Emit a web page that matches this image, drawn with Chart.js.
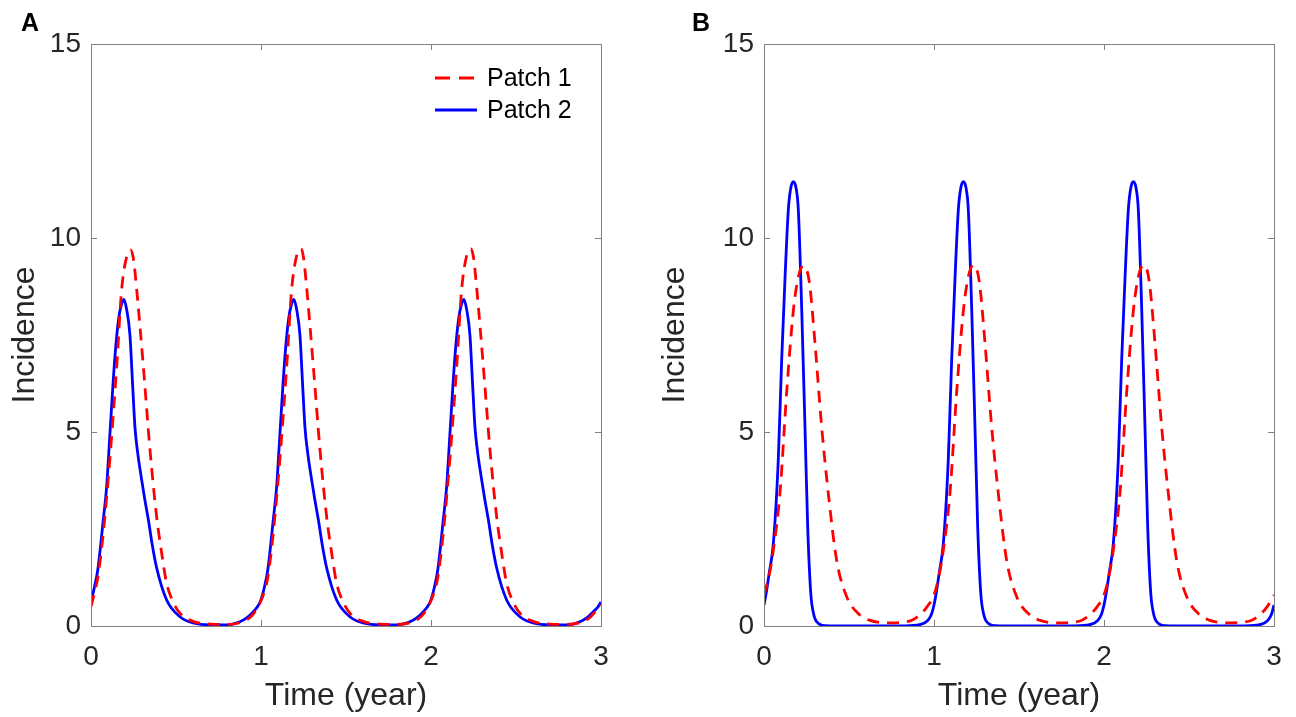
<!DOCTYPE html>
<html>
<head>
<meta charset="utf-8">
<script src="https://cdn.jsdelivr.net/npm/chart.js@4.4.1/dist/chart.umd.min.js"></script>
<style>
  html, body { margin: 0; padding: 0; background: #fff; }
  body { width: 1296px; height: 717px; position: relative; overflow: hidden; font-family: "Liberation Sans", Arial, sans-serif; }
  .panel { position: absolute; top: 0; height: 717px; }
  .tag { position: absolute; top: 8px; font-weight: bold; font-size: 25px; color: #000; }
</style>
</head>
<body>
<div class="panel" style="left:0;width:650px"><canvas id="chartA"></canvas></div>
<div class="panel" style="left:650px;width:646px"><canvas id="chartB"></canvas></div>
<div class="tag" style="left:21px">A</div>
<div class="tag" style="left:692px">B</div>
<script>
// Tick labels / axes
const X_TICKS = [0, 1, 2, 3];
const Y_TICKS = [0, 5, 10, 15];
const SERIES_NAMES = ['Patch 1', 'Patch 2'];

// Panel A, Patch 1 (red dashed) - [time, incidence]
const panelA_patch1 = [
  [0.00,0.50],[0.02,0.85],[0.04,1.25],[0.072,2.39],[0.112,4.36],[0.151,6.68],[0.18,8.66],[0.21,9.52],[0.235,9.69],[0.25,9.45],[0.269,8.66],
  [0.308,6.68],[0.347,4.54],[0.386,2.82],[0.415,1.9],[0.445,1.1],[0.48,0.65],[0.523,0.33],[0.6,0.12],[0.7,0.05],[0.8,0.04],[0.88,0.09],[0.93,0.2],[0.96,0.34],[0.98,0.48],
  [1.00,0.65],[1.02,0.9],[1.04,1.25],[1.072,2.39],[1.112,4.36],[1.151,6.68],[1.18,8.66],[1.21,9.55],[1.235,9.72],[1.25,9.5],[1.269,8.7],
  [1.308,6.68],[1.347,4.54],[1.386,2.82],[1.415,1.9],[1.445,1.1],[1.48,0.65],[1.523,0.33],[1.6,0.12],[1.7,0.05],[1.8,0.04],[1.88,0.09],[1.93,0.2],[1.96,0.34],[1.98,0.48],
  [2.00,0.65],[2.02,0.9],[2.04,1.25],[2.072,2.39],[2.112,4.36],[2.151,6.68],[2.18,8.66],[2.21,9.55],[2.235,9.72],[2.25,9.5],[2.269,8.7],
  [2.308,6.68],[2.347,4.54],[2.386,2.82],[2.415,1.9],[2.445,1.1],[2.48,0.65],[2.523,0.33],[2.6,0.12],[2.7,0.05],[2.8,0.04],[2.88,0.09],[2.93,0.2],[2.96,0.34],[2.98,0.45],
  [3.00,0.55]
];

// Panel A, Patch 2 (blue solid)
const panelA_patch2 = [
  [0.00,0.60],[0.02,1.0],[0.04,1.45],[0.072,2.73],[0.092,3.59],[0.112,5.0],[0.14,6.9],[0.162,7.9],[0.18,8.3],[0.194,8.42],[0.21,8.15],[0.229,7.5],
  [0.245,6.2],[0.259,5.1],[0.275,4.45],[0.295,3.85],[0.315,3.3],[0.337,2.75],[0.36,2.1],[0.386,1.5],[0.445,0.67],[0.523,0.24],[0.6,0.08],[0.7,0.03],
  [0.8,0.03],[0.876,0.11],[0.92,0.22],[0.955,0.37],[0.98,0.5],
  [1.00,0.68],[1.02,1.0],[1.04,1.45],[1.072,2.73],[1.092,3.59],[1.112,5.0],[1.14,6.9],[1.162,7.9],[1.18,8.3],[1.194,8.42],[1.21,8.15],[1.229,7.5],
  [1.245,6.2],[1.259,5.1],[1.275,4.45],[1.295,3.85],[1.315,3.3],[1.337,2.75],[1.36,2.1],[1.386,1.5],[1.445,0.67],[1.523,0.24],[1.6,0.08],[1.7,0.03],
  [1.8,0.03],[1.876,0.11],[1.92,0.22],[1.955,0.37],[1.98,0.5],
  [2.00,0.68],[2.02,1.0],[2.04,1.45],[2.072,2.73],[2.092,3.59],[2.112,5.0],[2.14,6.9],[2.162,7.9],[2.18,8.3],[2.194,8.42],[2.21,8.15],[2.229,7.5],
  [2.245,6.2],[2.259,5.1],[2.275,4.45],[2.295,3.85],[2.315,3.3],[2.337,2.75],[2.36,2.1],[2.386,1.5],[2.445,0.67],[2.523,0.24],[2.6,0.08],[2.7,0.03],
  [2.8,0.03],[2.876,0.11],[2.92,0.22],[2.955,0.37],[2.98,0.48],
  [3.00,0.62]
];

// Panel B, Patch 1 (red dashed)
const panelB_patch1 = [
  [0.00,0.80],[0.03,1.3],[0.055,1.96],[0.094,3.43],[0.133,6.0],[0.173,8.14],[0.202,9.0],[0.231,9.28],[0.25,9.2],[0.27,8.75],[0.3,7.29],[0.339,5.14],
  [0.378,3.43],[0.427,1.7],[0.486,0.76],[0.565,0.28],[0.62,0.15],[0.682,0.09],[0.75,0.08],[0.8,0.09],[0.87,0.15],[0.92,0.3],[0.96,0.5],
  [1.00,0.80],[1.03,1.3],[1.055,1.96],[1.094,3.43],[1.133,6.0],[1.173,8.14],[1.202,9.0],[1.231,9.3],[1.25,9.22],[1.27,8.75],[1.3,7.29],[1.339,5.14],
  [1.378,3.43],[1.427,1.7],[1.486,0.76],[1.565,0.28],[1.62,0.15],[1.682,0.09],[1.75,0.08],[1.8,0.09],[1.87,0.15],[1.92,0.3],[1.96,0.5],
  [2.00,0.80],[2.03,1.3],[2.055,1.96],[2.094,3.43],[2.133,6.0],[2.173,8.14],[2.202,9.0],[2.231,9.3],[2.25,9.22],[2.27,8.75],[2.3,7.29],[2.339,5.14],
  [2.378,3.43],[2.427,1.7],[2.486,0.76],[2.565,0.28],[2.62,0.15],[2.682,0.09],[2.75,0.08],[2.8,0.09],[2.87,0.15],[2.92,0.3],[2.96,0.5],
  [3.00,0.80]
];

// Panel B, Patch 2 (blue solid)
const panelB_patch2 = [
  [0.00,0.54],[0.015,0.9],[0.03,1.35],[0.055,2.13],[0.084,4.28],[0.104,6.86],[0.124,9.0],[0.143,10.72],[0.158,11.3],[0.173,11.45],[0.188,11.3],[0.202,10.72],
  [0.222,8.14],[0.241,5.14],[0.257,2.56],[0.275,0.85],[0.29,0.35],[0.31,0.11],[0.36,0.01],[0.5,0.0],[0.8,0.0],[0.9,0.02],[0.94,0.07],[0.965,0.15],[0.985,0.3],
  [1.00,0.54],[1.015,0.9],[1.03,1.35],[1.055,2.13],[1.084,4.28],[1.104,6.86],[1.124,9.0],[1.143,10.72],[1.158,11.3],[1.173,11.45],[1.188,11.3],[1.202,10.72],
  [1.222,8.14],[1.241,5.14],[1.257,2.56],[1.275,0.85],[1.29,0.35],[1.31,0.11],[1.36,0.01],[1.5,0.0],[1.8,0.0],[1.9,0.02],[1.94,0.07],[1.965,0.15],[1.985,0.3],
  [2.00,0.54],[2.015,0.9],[2.03,1.35],[2.055,2.13],[2.084,4.28],[2.104,6.86],[2.124,9.0],[2.143,10.72],[2.158,11.3],[2.173,11.45],[2.188,11.3],[2.202,10.72],
  [2.222,8.14],[2.241,5.14],[2.257,2.56],[2.275,0.85],[2.29,0.35],[2.31,0.11],[2.36,0.01],[2.5,0.0],[2.8,0.0],[2.9,0.02],[2.94,0.07],[2.965,0.15],[2.985,0.3],
  [3.00,0.54]
];

const AXIS_COLOR = '#808080';
const TEXT_COLOR = '#262626';
const FONT = '"Liberation Sans", Arial, Helvetica, sans-serif';

function toPoints(pairs) {
    return pairs.map(p => ({ x: p[0], y: p[1] }));
}

// Khung hộp + vạch chia hướng vào trong (kiểu MATLAB)
const boxPlugin = {
    id: 'box',
    afterDatasetsDraw(chart) {
        const { ctx, chartArea: a, scales } = chart;
        const len = 6;
        ctx.save();
        ctx.strokeStyle = AXIS_COLOR;
        ctx.lineWidth = 1;
        ctx.strokeRect(a.left + 0.5, a.top + 0.5, a.right - a.left, a.bottom - a.top);
        ctx.beginPath();
        Y_TICKS.forEach(v => {
            const y = Math.round(scales.y.getPixelForValue(v)) + 0.5;
            ctx.moveTo(a.left, y); ctx.lineTo(a.left + len, y);
            ctx.moveTo(a.right, y); ctx.lineTo(a.right - len, y);
        });
        X_TICKS.forEach(v => {
            const x = Math.round(scales.x.getPixelForValue(v)) + 0.5;
            ctx.moveTo(x, a.bottom); ctx.lineTo(x, a.bottom - len);
            ctx.moveTo(x, a.top); ctx.lineTo(x, a.top + len);
        });
        ctx.stroke();
        ctx.restore();
    }
};

// Chú thích vẽ bên trong vùng biểu đồ
const insideLegend = {
    id: 'insideLegend',
    afterDraw(chart, args, opts) {
        if (!opts.show) return;
        const { ctx, chartArea: a } = chart;
        ctx.save();
        ctx.font = '25px ' + FONT;
        ctx.textBaseline = 'middle';
        chart.data.datasets.forEach((ds, i) => {
            const y = a.top + 34 + i * 32;
            const x0 = a.right - 166;
            ctx.strokeStyle = ds.borderColor;
            ctx.lineWidth = ds.borderWidth;
            ctx.setLineDash(ds.borderDash ? [15, 9] : []);
            ctx.beginPath();
            ctx.moveTo(x0, y); ctx.lineTo(x0 + 42, y);
            ctx.stroke();
            ctx.setLineDash([]);
            ctx.fillStyle = '#000';
            ctx.fillText(ds.label, x0 + 52, y + 1);
        });
        ctx.restore();
    }
};

function makeChart(id, red, blue, yAxisWidth, padRight, showLegend) {
    return new Chart(document.getElementById(id), {
        type: 'line',
        data: {
            datasets: [
                {
                    label: SERIES_NAMES[0],
                    data: toPoints(red),
                    borderColor: '#ff0000',
                    borderWidth: 2.8,
                    borderDash: [12, 8],
                    pointRadius: 0,
                    fill: false,
                    cubicInterpolationMode: 'monotone'
                },
                {
                    label: SERIES_NAMES[1],
                    data: toPoints(blue),
                    borderColor: '#0000ff',
                    borderWidth: 2.8,
                    pointRadius: 0,
                    fill: false,
                    cubicInterpolationMode: 'monotone'
                }
            ]
        },
        options: {
            responsive: true,
            maintainAspectRatio: false,
            animation: false,
            layout: { padding: { top: 44, right: padRight, left: 0, bottom: 0 } },
            scales: {
                x: {
                    type: 'linear',
                    min: 0, max: 3,
                    afterBuildTicks: s => { s.ticks = X_TICKS.map(v => ({ value: v })); },
                    afterFit: s => { s.height = 91; },
                    grid: { display: false, drawTicks: false },
                    border: { display: false },
                    ticks: { color: TEXT_COLOR, font: { family: FONT, size: 28 }, padding: 14, maxRotation: 0 },
                    title: { display: true, text: 'Time (year)', color: TEXT_COLOR, font: { family: FONT, size: 32 }, padding: { top: 0, bottom: 2 } }
                },
                y: {
                    type: 'linear',
                    min: 0, max: 15,
                    afterBuildTicks: s => { s.ticks = Y_TICKS.map(v => ({ value: v })); },
                    afterFit: s => { s.width = yAxisWidth; },
                    grid: { display: false, drawTicks: false },
                    border: { display: false },
                    ticks: { color: TEXT_COLOR, font: { family: FONT, size: 28 }, padding: 10 },
                    title: { display: true, text: 'Incidence', color: TEXT_COLOR, font: { family: FONT, size: 32 }, padding: { top: 6, bottom: 0 } }
                }
            },
            plugins: {
                legend: { display: false },
                tooltip: { enabled: false },
                insideLegend: { show: showLegend }
            }
        },
        plugins: [boxPlugin, insideLegend]
    });
}

makeChart('chartA', panelA_patch1, panelA_patch2, 91, 49, true);
makeChart('chartB', panelB_patch1, panelB_patch2, 114, 22, false);
</script>
</body>
</html>
